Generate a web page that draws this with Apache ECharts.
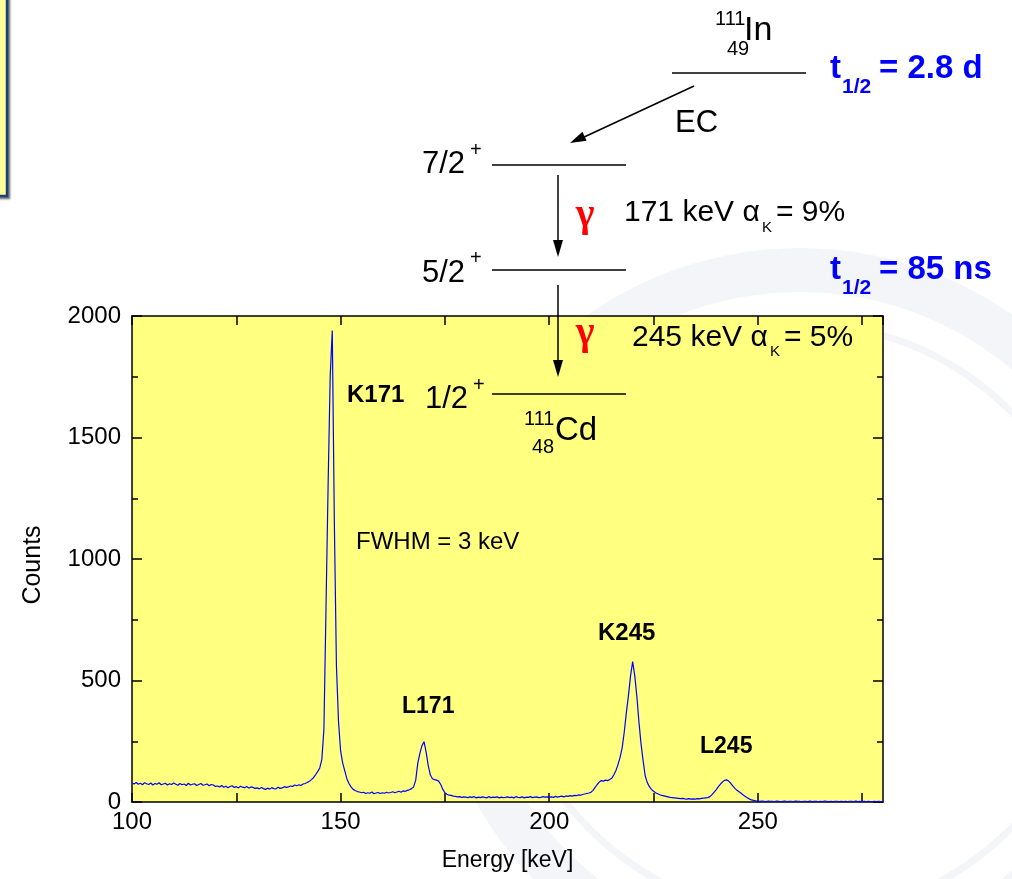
<!DOCTYPE html>
<html>
<head>
<meta charset="utf-8">
<script src="https://cdn.jsdelivr.net/npm/echarts@6/dist/echarts.min.js"></script>
<style>
  html, body { margin: 0; padding: 0; background: #ffffff; }
  #chart { width: 1012px; height: 879px; }
</style>
</head>
<body>
<div id="chart"></div>
<script>
// 111In -> 111Cd gamma spectrum, channels every 0.5 keV from 100 keV
const energyStart = 100;
const energyStep = 0.5;

// counts per channel, one row per 10 keV (100.0 ... 279.5), then 280.0
const countsRows = [
  [78, 74, 80, 73, 77, 71, 79, 75, 72, 78, 70, 76, 73, 79, 71, 74, 77, 70, 75, 72],
  [78, 73, 69, 76, 71, 74, 68, 77, 70, 73, 75, 68, 72, 76, 69, 71, 74, 67, 72, 70],
  [64, 66, 62, 68, 61, 65, 59, 64, 67, 60, 63, 58, 65, 61, 59, 64, 57, 62, 60, 56],
  [58, 54, 60, 55, 52, 57, 53, 59, 55, 54, 61, 56, 58, 63, 60, 62, 66, 64, 70, 67],
  [71, 68, 74, 76, 80, 85, 92, 100, 112, 125, 140, 175, 300, 800, 1300, 1750, 1940, 1150, 560, 330],
  [210, 160, 128, 96, 76, 62, 52, 47, 43, 41, 38, 40, 35, 38, 36, 41, 34, 37, 39, 35],
  [38, 36, 40, 37, 39, 42, 38, 41, 44, 40, 46, 44, 48, 50, 55, 62, 90, 160, 200, 232],
  [248, 205, 150, 112, 96, 92, 90, 86, 72, 52, 38, 32, 28, 27, 24, 23, 21, 22, 19, 21],
  [20, 18, 21, 19, 22, 17, 20, 18, 21, 19, 17, 22, 18, 20, 19, 21, 17, 20, 18, 19],
  [21, 18, 20, 17, 22, 19, 18, 21, 17, 20, 19, 22, 18, 20, 21, 18, 19, 22, 20, 21],
  [19, 21, 19, 23, 20, 22, 24, 21, 25, 23, 26, 24, 27, 26, 29, 28, 31, 33, 35, 37],
  [40, 48, 60, 72, 82, 88, 86, 90, 88, 93, 98, 112, 130, 155, 185, 225, 290, 370, 440, 520],
  [578, 520, 435, 330, 240, 170, 108, 80, 63, 52, 44, 38, 34, 30, 27, 25, 23, 21, 19, 18],
  [17, 16, 15, 14, 15, 13, 12, 14, 12, 13, 12, 14, 13, 15, 16, 17, 18, 22, 30, 40],
  [50, 62, 73, 82, 89, 91, 86, 77, 66, 56, 48, 42, 36, 29, 23, 17, 12, 9, 7, 5],
  [4, 3, 4, 3, 2, 4, 3, 3, 2, 4, 3, 2, 3, 4, 2, 3, 3, 2, 4, 3],
  [3, 2, 3, 3, 2, 4, 2, 3, 3, 2, 3, 2, 4, 3, 2, 3, 2, 3, 3, 2],
  [3, 2, 3, 2, 3, 3, 2, 4, 2, 3, 2, 3, 2, 3, 2, 2, 3, 2, 3, 2],
  [2]
];

// axis ranges and tick steps
const xRange = [100, 280];
const xTickStep = 25;
const xLabelStep = 50;
const yRange = [0, 2000];
const yTickStep = 500;

// peak labels inside the plot
const peakLabels = ['K171', 'L171', 'K245', 'L245'];
const fwhmText = 'FWHM = 3 keV';

const counts = countsRows.flat();
const spectrum = counts.map((c, i) => [energyStart + i * energyStep, c]);

const FONT = "'Liberation Sans', Arial, Helvetica, sans-serif";
const BLACK = '#000000';
const BLUE = '#0000ff';
const RED = '#ff0000';

const chart = echarts.init(document.getElementById('chart'), null, { renderer: 'canvas' });

function txt(text, x, y, size, opts) {
  opts = opts || {};
  return {
    type: 'text', x: x, y: y, z: 100,
    style: {
      text: text,
      fontFamily: opts.family || FONT,
      fontSize: size,
      fontWeight: opts.bold ? 'bold' : 'normal',
      fill: opts.color || BLACK,
      align: opts.align || 'left',
      verticalAlign: 'middle'
    }
  };
}
function seg(x1, y1, x2, y2) {
  return { type: 'line', z: 100, shape: { x1: x1, y1: y1, x2: x2, y2: y2 },
           style: { stroke: BLACK, lineWidth: 1.5 } };
}
function head(points) {
  return { type: 'polygon', z: 100, shape: { points: points }, style: { fill: BLACK } };
}

const GAMMA_FONT = "'Liberation Serif', 'DejaVu Serif', serif";

const graphics = [
  // faint emblem behind the page
  { type: 'ring', z: -100, shape: { cx: 800, cy: 620, r: 372, r0: 328 },
    style: { fill: '#f4f5f9' }, silent: true },
  { type: 'ring', z: -100, shape: { cx: 800, cy: 620, r: 300, r0: 293 },
    style: { fill: '#f4f5f9' }, silent: true },
  // framed note box at the left edge
  { type: 'rect', z: 100, shape: { x: -10, y: -10, width: 17, height: 206 },
    style: { fill: '#ffff99', stroke: '#1b3f78', lineWidth: 2.5,
             shadowBlur: 2, shadowOffsetX: 2, shadowOffsetY: 2, shadowColor: 'rgba(0,0,0,0.45)' } },

  // parent nucleus 111In
  txt('111', 715, 19, 20),
  txt('In', 744, 31, 34),
  txt('49', 727, 49, 20),
  seg(672, 73, 806, 73),
  txt('t', 830, 69, 33, { bold: true, color: BLUE }),
  txt('1/2', 842, 87, 21, { bold: true, color: BLUE }),
  txt('= 2.8 d', 879, 69, 33, { bold: true, color: BLUE }),

  // electron capture branch
  seg(694, 86, 582, 138),
  head([[570, 143], [586.6, 140.8], [582.4, 131.8]]),
  txt('EC', 675, 123, 31),

  // 7/2+ level
  txt('7/2', 422, 164, 31),
  txt('+', 470, 150, 20),
  seg(492, 165, 626, 165),

  // 171 keV transition
  seg(558, 175, 558, 243),
  head([[558, 257], [553, 240], [563, 240]]),
  txt('γ', 585, 216, 40, { bold: true, color: RED, align: 'center', family: GAMMA_FONT }),
  txt('171 keV α', 624, 213, 30),
  txt('K', 762, 228, 15),
  txt('= 9%', 776, 213, 30),

  // 5/2+ level
  txt('5/2', 422, 273, 31),
  txt('+', 470, 258, 20),
  seg(492, 270, 626, 270),
  txt('t', 830, 270, 33, { bold: true, color: BLUE }),
  txt('1/2', 842, 288, 21, { bold: true, color: BLUE }),
  txt('= 85 ns', 879, 270, 33, { bold: true, color: BLUE }),

  // 245 keV transition
  seg(558, 285, 558, 362),
  head([[558, 377], [553, 360], [563, 360]]),
  txt('γ', 585, 334, 40, { bold: true, color: RED, align: 'center', family: GAMMA_FONT }),
  txt('245 keV α', 632, 338, 30),
  txt('K', 770, 352, 15),
  txt('= 5%', 784, 338, 30),

  // ground state 1/2+ of 111Cd
  txt('1/2', 425, 399, 31),
  txt('+', 473, 385, 20),
  seg(492, 394, 626, 394),
  txt('111', 524, 419, 20),
  txt('Cd', 555, 431, 33),
  txt('48', 532, 447, 20),

  // peak annotations
  txt(peakLabels[0], 347, 395, 24, { bold: true }),
  txt(fwhmText, 356, 542, 24),
  txt(peakLabels[1], 402, 707, 23, { bold: true }),
  txt(peakLabels[2], 598, 633, 24, { bold: true }),
  txt(peakLabels[3], 700, 747, 23, { bold: true })
];

const tickLine = { color: BLACK, width: 1.5 };
const axisLineStyle = { show: true, onZero: false, lineStyle: { color: BLACK, width: 1.5 } };

const option = {
  animation: false,
  backgroundColor: 'transparent',
  textStyle: { fontFamily: FONT },
  grid: {
    left: 132, right: 129, top: 316, bottom: 77,
    show: true, backgroundColor: '#ffff80', borderWidth: 0
  },
  xAxis: [
    {
      type: 'value', position: 'bottom',
      min: xRange[0], max: xRange[1], interval: xTickStep,
      axisLine: axisLineStyle,
      axisTick: { show: true, inside: true, length: 9, lineStyle: tickLine },
      axisLabel: {
        show: true, color: BLACK, fontSize: 24, fontFamily: FONT, margin: 8,
        showMaxLabel: false,
        formatter: v => (v % xLabelStep === 0 ? String(v) : '')
      },
      splitLine: { show: false },
      name: 'Energy [keV]', nameLocation: 'middle', nameGap: 47,
      nameTextStyle: { color: BLACK, fontSize: 23, fontFamily: FONT }
    },
    {
      type: 'value', position: 'top',
      min: xRange[0], max: xRange[1], interval: xTickStep,
      axisLine: axisLineStyle,
      axisTick: { show: true, inside: true, length: 9, lineStyle: tickLine },
      axisLabel: { show: false },
      splitLine: { show: false }
    }
  ],
  yAxis: [
    {
      type: 'value', position: 'left',
      min: yRange[0], max: yRange[1], interval: yTickStep,
      axisLine: axisLineStyle,
      axisTick: { show: true, inside: true, length: 10, lineStyle: tickLine },
      minorTick: { show: true, splitNumber: 2, length: 6, lineStyle: tickLine },
      axisLabel: {
        show: true, color: BLACK, fontSize: 24, fontFamily: FONT, margin: 11,
        formatter: v => String(v)
      },
      splitLine: { show: false },
      name: 'Counts', nameLocation: 'middle', nameGap: 86,
      nameTextStyle: { color: BLACK, fontSize: 25, fontFamily: FONT, padding: [0, 12, 0, 0] }
    },
    {
      type: 'value', position: 'right',
      min: yRange[0], max: yRange[1], interval: yTickStep,
      axisLine: axisLineStyle,
      axisTick: { show: true, inside: true, length: 10, lineStyle: tickLine },
      minorTick: { show: true, splitNumber: 2, length: 6, lineStyle: tickLine },
      axisLabel: { show: false },
      splitLine: { show: false }
    }
  ],
  series: [
    {
      type: 'line',
      xAxisIndex: 0, yAxisIndex: 0,
      data: spectrum,
      showSymbol: false,
      symbol: 'none',
      lineStyle: { color: BLUE, width: 1.2 },
      z: 5
    }
  ],
  graphic: { elements: graphics }
};

chart.setOption(option);
</script>
</body>
</html>
